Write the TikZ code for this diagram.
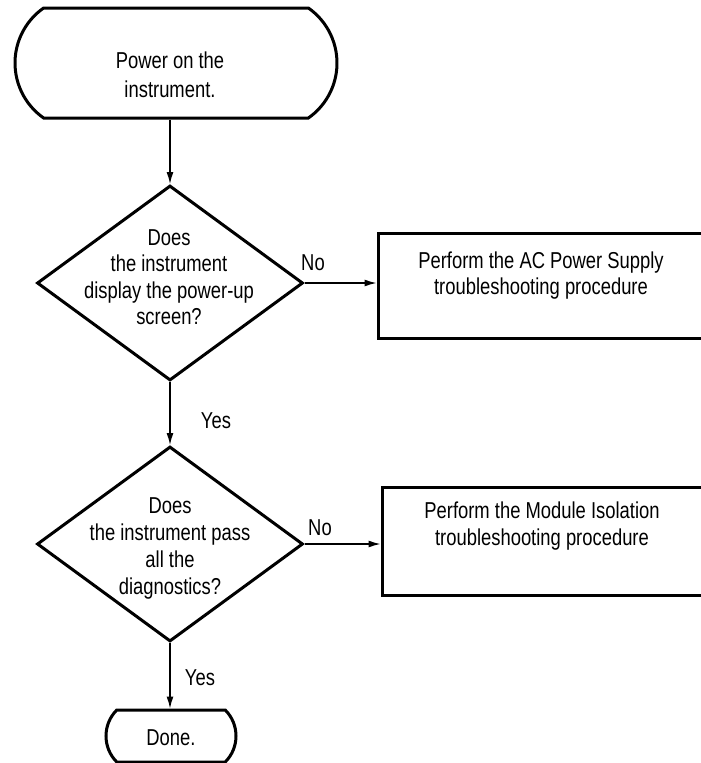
\documentclass[tikz,border=0pt]{standalone}
\usepackage{fontspec}
\setmainfont{Liberation Sans}[FakeStretch=0.8]
\usetikzlibrary{shapes.geometric,shapes.misc,arrows.meta}
\begin{document}
\begin{tikzpicture}[x=1pt,y=-1pt,
  txt/.style={font=\fontsize{23}{27}\selectfont, inner sep=0pt, anchor=base},
  shp/.style={draw, line width=3pt, inner sep=0pt},
  dia/.style={shp, diamond, minimum width=266pt, minimum height=195pt},
  arr/.style={line width=1.3pt, -{Latex[length=12pt,width=7pt]}},
]
\useasboundingbox (0,0) rectangle (701,763);
\clip (0,0) rectangle (701,763);
% shapes
\node[shp, rounded rectangle, rounded rectangle arc length=110, minimum width=322pt, minimum height=110pt] (start) at (176,63) {};
\node[dia] (d1) at (170,283) {};
\node[dia] (d2) at (170,544) {};
\node[shp, rectangle, minimum width=342pt, minimum height=105pt] (box1) at (549,285.5) {};
\node[shp, rectangle, minimum width=338pt, minimum height=108pt] (box2) at (551,541) {};
\node[shp, rounded rectangle, rounded rectangle arc length=90, minimum width=130pt, minimum height=52pt] (done) at (171,736) {};
% texts
\node[txt] (s1) at (170,68) {Power on the};
\node[txt] (s2) at (170,97) {instrument.};
\node[txt] (a1) at (169,245) {Does};
\node[txt] (a2) at (169,271.5) {the instrument};
\node[txt] (a3) at (169,298) {display the power-up};
\node[txt] (a4) at (169,324.5) {screen?};
\node[txt] (b1) at (170,513) {Does};
\node[txt] (b2) at (170,540) {the instrument pass};
\node[txt] (b3) at (170,567) {all the};
\node[txt] (b4) at (170,594) {diagnostics?};
\node[txt] (p1) at (541,268) {Perform the AC Power Supply};
\node[txt] (p2) at (541,294) {troubleshooting procedure};
\node[txt] (q1) at (542,518) {Perform the Module Isolation};
\node[txt] (q2) at (542,545) {troubleshooting procedure};
\node[txt] (dn) at (171,745) {Done.};
\node[txt] (no1) at (313,270) {No};
\node[txt] (no2) at (320,535) {No};
\node[txt] (yes1) at (216,428) {Yes};
\node[txt] (yes2) at (200,685) {Yes};
% connectors
\draw[arr] (start.south -| d1.north) -- (d1.north);
\draw[arr] (d1.south) -- (d2.north);
\draw[arr] (d2.south) -- (done.north -| d2.south);
\draw[arr] (d1.east) -- (d1.east -| box1.west);
\draw[arr] (d2.east) -- (d2.east -| box2.west);
\end{tikzpicture}
\end{document}
